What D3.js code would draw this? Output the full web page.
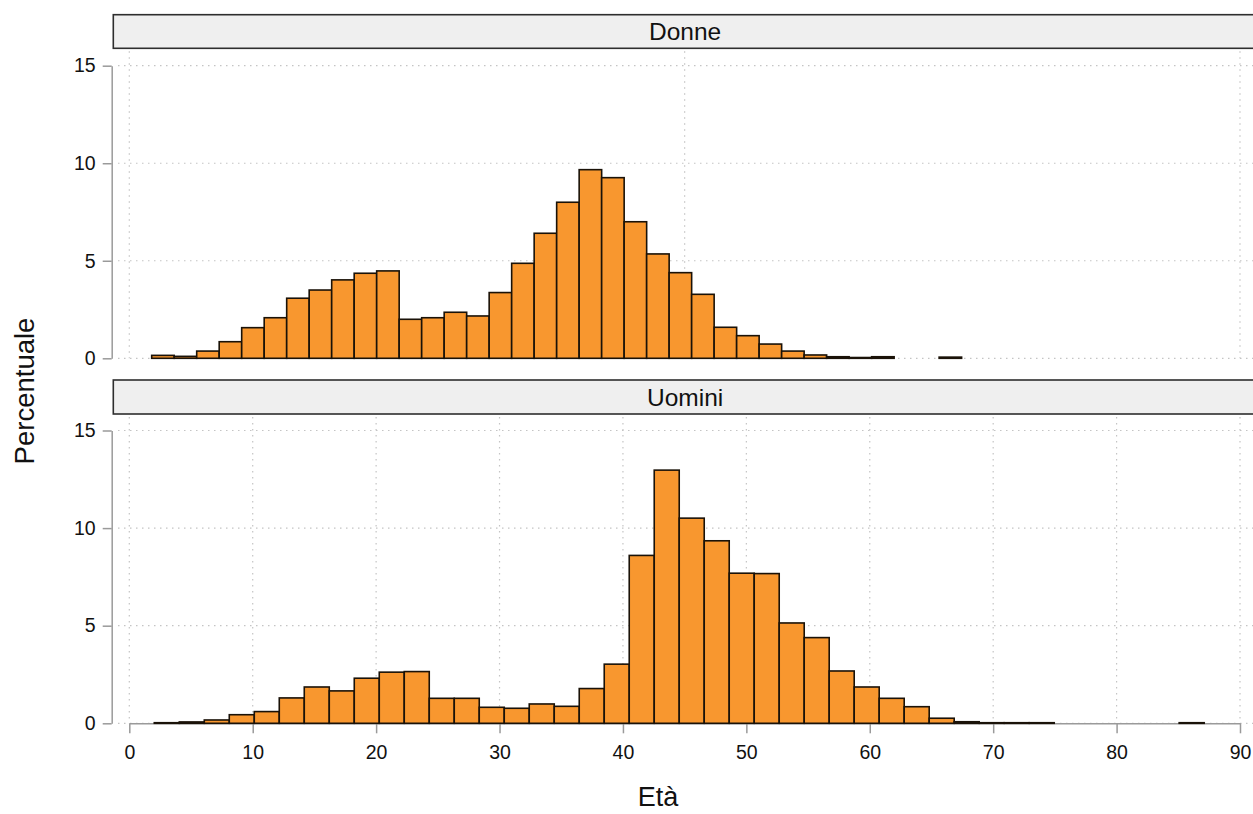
<!DOCTYPE html>
<html>
<head>
<meta charset="utf-8">
<script src="https://cdn.jsdelivr.net/npm/d3@7"></script>
<style>
  html, body { margin: 0; padding: 0; background: #ffffff; }
  svg { display: block; font-family: "Liberation Sans", Arial, Helvetica, sans-serif; }
</style>
</head>
<body>
<svg id="chart" width="1253" height="814"></svg>
<script>
// Age distribution (percent of each group) by sex, histogram bins in years
const panelNames = ["Donne", "Uomini"];

const donneBinStart = 1.815;
const donneBinWidth = 1.823;
const donnePct = [
  0.15, 0.10, 0.37, 0.85, 1.57, 2.08, 3.08, 3.50, 4.02, 4.36,
  4.48, 2.00, 2.08, 2.36, 2.17, 3.37, 4.87, 6.41, 8.00, 9.67,
  9.26, 7.00, 5.35, 4.39, 3.28, 1.59, 1.16, 0.73, 0.37, 0.17,
  0.08, 0.04, 0.08, 0.00, 0.00, 0.06
];

const uominiBinStart = 2.025;
const uominiBinWidth = 2.0255;
const uominiPct = [
  0.03, 0.07, 0.17, 0.44, 0.60, 1.30, 1.86, 1.66, 2.31, 2.62,
  2.65, 1.28, 1.28, 0.82, 0.77, 0.99, 0.87, 1.78, 3.03, 8.60,
  12.97, 10.51, 9.35, 7.69, 7.67, 5.14, 4.39, 2.68, 1.86, 1.28,
  0.85, 0.26, 0.08, 0.03, 0.03, 0.03, 0.00, 0.00, 0.00, 0.00,
  0.00, 0.03
];

const ageTicks = [0, 10, 20, 30, 40, 50, 60, 70, 80, 90];
const topGridAges = [0, 45, 90];
const pctTicks = [0, 5, 10, 15];

const svg = d3.select("#chart");

const x = d3.scaleLinear().domain([0, 90]).range([129.3, 1240]);

const panels = [
  { name: panelNames[0], start: donneBinStart, width: donneBinWidth, pct: donnePct,
    stripTop: 14.7, stripBottom: 48.3, y: d3.scaleLinear().domain([0, 15]).range([358.3, 65.7]),
    vGrid: topGridAges, xAxis: false },
  { name: panelNames[1], start: uominiBinStart, width: uominiBinWidth, pct: uominiPct,
    stripTop: 380, stripBottom: 414, y: d3.scaleLinear().domain([0, 15]).range([723.3, 430.5]),
    vGrid: ageTicks, xAxis: true }
];

const axisX = 111.7;
const plotLeft = 118;
const plotRight = 1258;

panels.forEach(p => {
  const g = svg.append("g");
  const y = p.y;

  // dotted grid
  g.append("g").selectAll("line.h").data(pctTicks).join("line")
    .attr("x1", plotLeft).attr("x2", plotRight)
    .attr("y1", d => y(d)).attr("y2", d => y(d))
    .attr("stroke", "#c4c4c4").attr("stroke-width", 1.2)
    .attr("stroke-dasharray", "1.5,4.5");
  g.append("g").selectAll("line.v").data(p.vGrid).join("line")
    .attr("x1", d => x(d)).attr("x2", d => x(d))
    .attr("y1", p.stripBottom + 3).attr("y2", y(0))
    .attr("stroke", "#c4c4c4").attr("stroke-width", 1.2)
    .attr("stroke-dasharray", "1.5,4.5");

  // x axis (bottom panel only)
  if (p.xAxis) {
    const ax = g.append("g")
      .attr("transform", `translate(0,${y(0)})`)
      .call(d3.axisBottom(x).tickValues(ageTicks).tickSize(10).tickSizeOuter(0).tickPadding(12));
    ax.select(".domain").attr("stroke", "#9a9a9a").attr("stroke-width", 1.5);
    ax.selectAll(".tick line").attr("stroke", "#9a9a9a").attr("stroke-width", 1.5);
    ax.selectAll(".tick text").attr("font-size", 19.5).attr("fill", "#111")
      .attr("font-family", "'Liberation Sans', Arial, sans-serif");
  }

  // histogram bars
  const bins = p.pct.map((v, i) => ({ x0: p.start + i * p.width, x1: p.start + (i + 1) * p.width, v }))
    .filter(d => d.v > 0);
  g.append("g").selectAll("rect").data(bins).join("rect")
    .attr("x", d => x(d.x0))
    .attr("width", d => x(d.x1) - x(d.x0))
    .attr("y", d => y(d.v))
    .attr("height", d => y(0) - y(d.v))
    .attr("fill", "#f8972f")
    .attr("stroke", "#1a1208")
    .attr("stroke-width", 1.6);

  // y axis
  const ay = g.append("g")
    .attr("transform", `translate(${axisX},0)`)
    .call(d3.axisLeft(y).tickValues(pctTicks).tickSize(9).tickSizeOuter(0).tickPadding(7));
  ay.select(".domain").attr("stroke", "#9a9a9a").attr("stroke-width", 1.5);
  ay.selectAll(".tick line").attr("stroke", "#9a9a9a").attr("stroke-width", 1.5);
  ay.selectAll(".tick text").attr("font-size", 19.5).attr("fill", "#111")
    .attr("font-family", "'Liberation Sans', Arial, sans-serif");

  // strip header
  g.append("rect")
    .attr("x", 113.3).attr("y", p.stripTop)
    .attr("width", plotRight + 10 - 113.3).attr("height", p.stripBottom - p.stripTop)
    .attr("fill", "#efefef").attr("stroke", "#2e2e2e").attr("stroke-width", 1.6);
  g.append("text")
    .attr("x", (113.3 + 1257) / 2).attr("y", (p.stripTop + p.stripBottom) / 2)
    .attr("dy", "0.36em").attr("text-anchor", "middle")
    .attr("font-size", 24.5).attr("fill", "#111")
    .text(p.name);
});

// axis titles
svg.append("text")
  .attr("x", 658).attr("y", 806)
  .attr("text-anchor", "middle").attr("font-size", 27).attr("fill", "#111")
  .text("Età");
svg.append("text")
  .attr("transform", "translate(34,391) rotate(-90)")
  .attr("text-anchor", "middle").attr("font-size", 27.5).attr("fill", "#111")
  .text("Percentuale");
</script>
</body>
</html>
